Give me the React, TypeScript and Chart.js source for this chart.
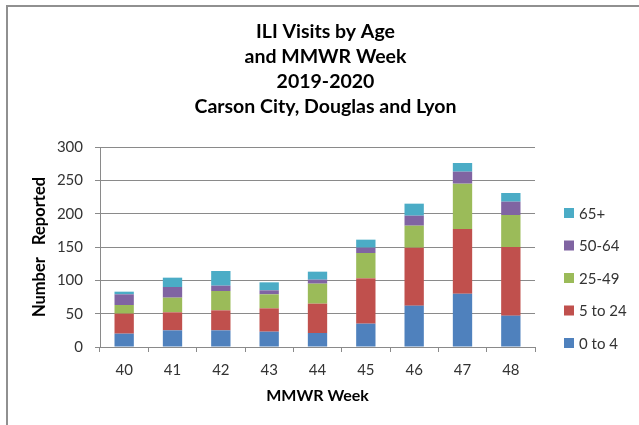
import React, { useEffect, useRef } from "react";
import { Chart, registerables } from "chart.js";

Chart.register(...registerables);

const weeks = ["40", "41", "42", "43", "44", "45", "46", "47", "48"];
const age0to4 = [20, 25, 25, 23, 21, 35, 62, 80, 47];
const age5to24 = [30, 27, 30, 35, 44, 68, 87, 97, 103];
const age25to49 = [13, 22, 29, 21, 30, 38, 33, 68, 48];
const age50to64 = [16, 16, 8, 6, 6, 8, 15, 18, 20];
const age65plus = [4, 14, 22, 12, 12, 12, 18, 13, 13];
const seriesLabels = ["0 to 4", "5 to 24", "25-49", "50-64", "65+"];
const titleLines = ["ILI Visits by Age", "and MMWR Week", "2019-2020", "Carson City, Douglas and Lyon"];
const yTicks = [0, 50, 100, 150, 200, 250, 300];

const FONT = "Lato, 'Open Sans', sans-serif";
const colors = ["#4F81BD", "#C0504D", "#9BBB59", "#8064A2", "#4BACC6"];
const GRID = "#8a8a8a";
const TEXT = "#333333";

const overlay = {
  id: "overlay",
  afterDraw(chart: any) {
    const ctx = chart.ctx;
    const area = chart.chartArea;
    ctx.save();
    // title
    ctx.fillStyle = "#000";
    ctx.font = `bold 19.5px ${FONT}`;
    ctx.textAlign = "center";
    ctx.textBaseline = "middle";
    titleLines.forEach((t, i) => ctx.fillText(t, chart.width / 2 + 6, 32 + i * 25));
    // legend (reversed)
    const ds = chart.data.datasets;
    ctx.font = `15px ${FONT}`;
    ctx.textAlign = "left";
    const bx = area.right + 29;
    for (let k = 0; k < ds.length; k++) {
      const d = ds[ds.length - 1 - k];
      const cy = area.top + 66 + k * 32.5;
      ctx.fillStyle = d.backgroundColor;
      ctx.fillRect(bx, cy - 5, 10, 10);
      ctx.fillStyle = TEXT;
      ctx.fillText(d.label, bx + 15, cy + 1);
    }
    ctx.restore();
  },
};

export default function App() {
  const ref = useRef<HTMLCanvasElement>(null);
  useEffect(() => {
    const values = [age0to4, age5to24, age25to49, age50to64, age65plus];
    const chart = new Chart(ref.current!, {
      type: "bar",
      data: {
        labels: weeks,
        datasets: values.map((v, i) => ({
          label: seriesLabels[i],
          data: v,
          backgroundColor: colors[i],
          borderWidth: 0,
          categoryPercentage: 0.8,
          barPercentage: 0.5,
        })),
      },
      options: {
        animation: false,
        responsive: false,
        layout: { padding: { left: 18, right: 104, top: 147, bottom: 18 } },
        plugins: {
          legend: { display: false },
          title: { display: false },
          tooltip: { enabled: false },
        },
        scales: {
          x: {
            stacked: true,
            afterFit: (s: any) => { s.height = 60; },
            grid: { display: true, drawOnChartArea: false, offset: true, tickLength: 5, color: GRID },
            border: { color: GRID },
            ticks: { color: TEXT, font: { family: FONT, size: 15 }, padding: 9 },
            title: {
              display: true,
              text: "MMWR Week",
              color: "#000",
              font: { family: FONT, size: 16, weight: "bold" },
              padding: { top: 0, bottom: 2 },
            },
          },
          y: {
            stacked: true,
            min: 0,
            max: 300,
            afterFit: (s: any) => { s.width = 82; },
            afterBuildTicks: (s: any) => { s.ticks = yTicks.map((v) => ({ value: v })); },
            grid: { color: GRID, tickLength: 5 },
            border: { color: GRID },
            ticks: { color: TEXT, font: { family: FONT, size: 15 }, padding: 12 },
            title: {
              display: true,
              text: "Number   Reported",
              color: "#000",
              font: { family: FONT, size: 16.5, weight: "bold" },
              padding: { top: 12, bottom: 0 },
            },
          },
        },
      },
      plugins: [overlay],
    });
    return () => chart.destroy();
  }, []);
  return (
    <div style={{ position: "fixed", left: 0, top: 0, width: 639, height: 425, background: "#fff", overflow: "hidden" }}>
      <div style={{ position: "absolute", left: 6, top: 5, width: 700, height: 500, border: "2px solid #909090" }} />
      <canvas ref={ref} width={639} height={425} style={{ position: "absolute", left: 0, top: 0 }} />
    </div>
  );
}
